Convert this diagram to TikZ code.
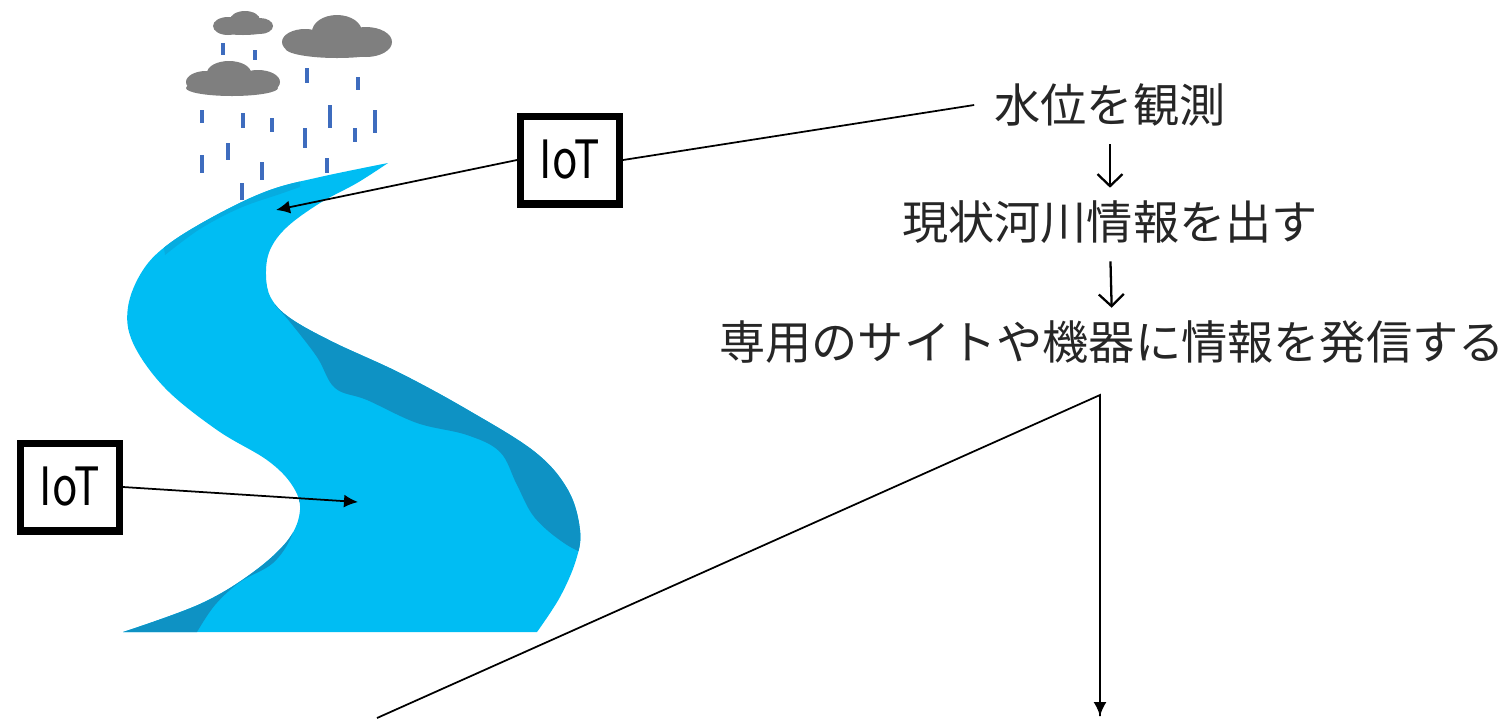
\documentclass[tikz,border=0pt]{standalone}
\usepackage{fontspec}
\newfontfamily\jpfont{Noto Sans CJK JP}
\newfontfamily\iotfont{Noto Sans CJK JP}[FakeStretch=0.8]
\usetikzlibrary{arrows.meta}
\definecolor{riverlight}{RGB}{0,189,243}
\definecolor{riverdark}{RGB}{14,146,196}
\definecolor{cloudgray}{RGB}{127,127,127}
\definecolor{raindrop}{RGB}{62,108,190}

% outline of the river, top tip first
\newcommand{\riverbed}{plot[smooth, tension=0.6] coordinates {(388,163) (320,177) (270,190) (220,213) (170,243) (143,270) (128,307) (133,343) (165,388) (217,430) (267,460) (292,485) (300,510) (288,540) (252,573) (200,604) (123,632)}
  -- plot[smooth, tension=0.6] coordinates {(537,632) (560,597) (576,560) (580,530) (568,490) (535,452) (468,410) (400,373) (333,342) (290,318) (271,298) (266,275) (270,250) (287,227) (320,203) (357,183) (388,163)} -- cycle}

\begin{document}
\begin{tikzpicture}[x=0.02cm, y=-0.02cm,
    iotbox/.style={draw, line width=4pt, minimum width=1.98cm, minimum height=1.76cm,
      inner sep=0pt, font=\iotfont\fontsize{30}{30}\selectfont},
    steptext/.style={inner sep=0pt, text=black!85, font=\jpfont\fontsize{26.3}{30}\selectfont},
    link/.style={line width=1pt},
    pointer/.style={link, -{Latex[length=2.8mm,width=2.6mm]}},
    flow/.style={line width=1.3pt, -{Straight Barb[length=2.4mm,width=5mm]}},
    drop/.style={raindrop, line width=2pt}]

    \useasboundingbox (0,0) rectangle (1510,718);

    % Clouds
    \fill[cloudgray] (228,26) ellipse (15 and 9) (245,20) ellipse (15 and 9)
        (260,26) ellipse (13 and 8) (243,29) ellipse (28 and 6);
    \fill[cloudgray] (305,42) ellipse (23 and 13) (337,32) ellipse (25 and 17)
        (366,42) ellipse (26 and 15) (337,48) ellipse (52 and 10);
    \fill[cloudgray] (206,82) ellipse (20 and 11) (229,73) ellipse (22 and 12)
        (258,82) ellipse (22 and 12) (232,88) ellipse (46 and 8);

    % Rain
    \foreach \x/\ya/\yb in {223/43/55, 255/50/60, 307/68/83, 358/77/90, 202/110/123,
        243/113/128, 272/118/132, 330/105/128, 375/110/133, 305/128/148, 355/128/142,
        228/143/160, 202/155/173, 262/162/180, 327/158/173, 242/183/200}
      \draw[drop] (\x,\ya) -- (\x,\yb);

    % River with its shaded banks
    \fill[riverlight] \riverbed;
    \begin{scope}
      \clip \riverbed;
      \fill[riverdark] plot[smooth, tension=0.6] coordinates {(275,305) (290,322) (317,357)
          (335,388) (367,400) (417,423) (467,435) (500,452) (517,485) (535,518) (567,545) (600,560)}
          -- (700,560) -- (700,200) -- (340,200) -- cycle;
      \fill[riverdark] plot[smooth, tension=0.6] coordinates {(300,500) (292,535) (273,563)
          (240,582) (215,605) (197,632)} -- (190,660) -- (0,660) -- (0,480) -- cycle;
      \fill[riverdark!40!riverlight] plot[smooth, tension=0.6] coordinates {(300,187) (280,194)
          (240,208) (200,229) (165,255)} -- (150,150) -- (300,150) -- cycle;
    \end{scope}

    % IoT sensors
    \node[iotbox] (sensorup) at (570,160) {IoT};
    \node[iotbox] (sensordown) at (70,487) {IoT};
    \coordinate (spotup) at (276,210);
    \coordinate (spotdown) at (358,502);
    \draw[pointer] (sensorup.west) -- (spotup);
    \draw[pointer] (sensordown.east) -- (spotdown);

    % Flow of information
    \node[steptext] (observe) at (1110,105) {水位を観測};
    \node[steptext] (report) at (1110,222) {現状河川情報を出す};
    \node[steptext] (send) at (1112,342) {専用のサイトや機器に情報を発信する};
    \draw[link] (sensorup.east) -- ([xshift=-0.4cm]observe.west);
    \draw[flow, shorten <=0.35cm, shorten >=0.25cm] (observe.south) -- (report.north);
    \draw[flow, shorten <=0.35cm, shorten >=0.25cm] (report.south) -- (send.north);

    % Outgoing line
    \coordinate (edge) at (377,718);
    \coordinate (bend) at (1100,395);
    \coordinate (out) at (1100,716);
    \draw[link, line join=miter] (edge) -- (bend) -- (out);
    \draw[pointer] (bend) -- (out);

\end{tikzpicture}
\end{document}
